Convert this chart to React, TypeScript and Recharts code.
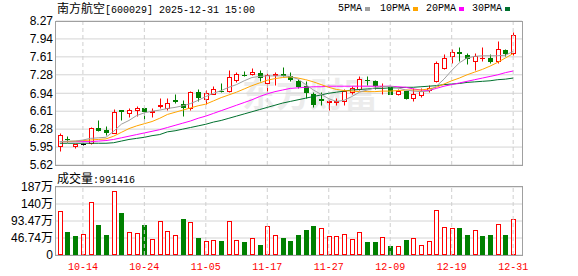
import React from "react";
import { Bar, CartesianGrid, ComposedChart, Line, ReferenceLine, XAxis, YAxis } from "recharts";

const dates = [
  "10-09", "10-10", "10-13", "10-14", "10-15", "10-16", "10-17", "10-20", "10-21", "10-22",
  "10-23", "10-24", "10-27", "10-28", "10-29", "10-30", "10-31", "11-03", "11-04", "11-05",
  "11-06", "11-07", "11-10", "11-11", "11-12", "11-13", "11-14", "11-17", "11-18", "11-19",
  "11-20", "11-21", "11-24", "11-25", "11-26", "11-27", "11-28", "12-01", "12-02", "12-03",
  "12-04", "12-05", "12-08", "12-09", "12-10", "12-11", "12-12", "12-15", "12-16", "12-17",
  "12-18", "12-19", "12-22", "12-23", "12-24", "12-25", "12-26", "12-29", "12-30", "12-31",
];

const opens = [
  5.97, 6.1, 5.97, 6.0, 6.02, 6.31, 6.26, 6.21, 6.63, 6.58,
  6.63, 6.67, 6.6, 6.7, 6.66, 6.81, 6.75, 6.67, 6.96, 6.83,
  6.93, 6.99, 6.98, 7.18, 7.28, 7.29, 7.31, 7.13, 7.28, 7.29,
  7.25, 7.17, 7.07, 6.93, 6.83, 6.78, 6.78, 6.79, 6.96, 7.02,
  7.19, 7.17, 7.07, 7.06, 6.93, 6.98, 6.86, 6.91, 7.0, 7.16,
  7.4, 7.62, 7.7, 7.65, 7.54, 7.58, 7.59, 7.53, 7.74, 7.68,
];
const highs = [
  6.2, 6.15, 6.01, 6.02, 6.32, 6.44, 6.34, 6.65, 6.63, 6.66,
  6.7, 6.68, 6.67, 6.85, 6.86, 6.92, 6.82, 6.98, 7.01, 7.0,
  7.08, 7.12, 7.37, 7.34, 7.35, 7.4, 7.37, 7.31, 7.34, 7.43,
  7.34, 7.2, 7.16, 6.96, 6.96, 6.82, 6.86, 7.01, 7.07, 7.26,
  7.26, 7.19, 7.13, 7.08, 7.01, 6.99, 7.04, 7.04, 7.1, 7.53,
  7.67, 7.75, 7.8, 7.68, 7.68, 7.79, 7.67, 7.9, 7.75, 8.06,
];
const lows = [
  5.87, 6.04, 5.94, 5.98, 6.0, 6.24, 6.18, 6.2, 6.45, 6.51,
  6.53, 6.45, 6.5, 6.67, 6.63, 6.76, 6.52, 6.63, 6.79, 6.75,
  6.92, 6.96, 6.96, 7.15, 7.25, 7.27, 7.17, 6.96, 7.1, 7.25,
  7.17, 7.04, 6.86, 6.69, 6.72, 6.63, 6.73, 6.73, 6.92, 7.0,
  7.1, 7.01, 6.92, 6.92, 6.9, 6.83, 6.79, 6.87, 6.96, 7.14,
  7.39, 7.5, 7.54, 7.48, 7.36, 7.54, 7.5, 7.5, 7.63, 7.65,
];
const closes = [
  6.17, 6.09, 6.0, 6.0, 6.31, 6.26, 6.23, 6.59, 6.62, 6.64,
  6.67, 6.62, 6.61, 6.72, 6.76, 6.8, 6.69, 6.96, 6.87, 6.95,
  7.01, 6.98, 7.24, 7.3, 7.27, 7.33, 7.24, 7.28, 7.29, 7.28,
  7.21, 7.08, 6.96, 6.75, 6.82, 6.79, 6.8, 6.99, 7.03, 7.2,
  7.18, 7.1, 7.08, 6.93, 6.99, 6.86, 6.93, 6.98, 7.04, 7.5,
  7.59, 7.7, 7.68, 7.59, 7.62, 7.59, 7.54, 7.75, 7.68, 8.01,
];

const ma5 = [
  6.05, 6.06, 6.06, 6.08, 6.11, 6.12, 6.13, 6.24, 6.37, 6.44,
  6.53, 6.58, 6.61, 6.63, 6.66, 6.68, 6.71, 6.75, 6.81, 6.88,
  6.94, 6.99, 7.05, 7.1, 7.17, 7.23, 7.25, 7.26, 7.26, 7.26,
  7.25, 7.2, 7.1, 7.0, 6.92, 6.84, 6.79, 6.81, 6.88, 6.96,
  7.0, 7.04, 7.06, 7.07, 7.04, 7.0, 6.98, 6.97, 6.98, 7.07,
  7.2, 7.36, 7.5, 7.59, 7.62, 7.63, 7.63, 7.63, 7.64, 7.71,
];
const ma10 = [
  6.05, 6.05, 6.06, 6.07, 6.08, 6.09, 6.1, 6.15, 6.22, 6.29,
  6.34, 6.38, 6.42, 6.48, 6.55, 6.59, 6.63, 6.67, 6.71, 6.74,
  6.8, 6.86, 6.91, 6.96, 7.02, 7.08, 7.13, 7.18, 7.21, 7.23,
  7.24, 7.22, 7.19, 7.15, 7.1, 7.05, 7.01, 6.99, 6.98, 6.97,
  6.97, 6.97, 6.98, 6.98, 6.99, 7.0, 7.0, 7.0, 7.02, 7.05,
  7.11, 7.17, 7.22, 7.28, 7.33, 7.38, 7.44, 7.51, 7.59, 7.67,
];
const ma20 = [
  6.05, 6.05, 6.05, 6.05, 6.05, 6.06, 6.07, 6.09, 6.12, 6.15,
  6.18, 6.21, 6.24, 6.27, 6.31, 6.35, 6.39, 6.43, 6.48, 6.52,
  6.57, 6.62, 6.67, 6.72, 6.77, 6.82, 6.88, 6.93, 6.97, 7.0,
  7.03, 7.04, 7.05, 7.06, 7.06, 7.07, 7.07, 7.07, 7.07, 7.07,
  7.07, 7.07, 7.07, 7.07, 7.06, 7.05, 7.02, 7.0, 6.99, 7.03,
  7.07, 7.1, 7.13, 7.16, 7.19, 7.22, 7.25, 7.28, 7.32, 7.35,
];
const ma30 = [
  6.02, 6.02, 6.02, 6.02, 6.02, 6.02, 6.02, 6.03, 6.06, 6.09,
  6.11, 6.13, 6.16, 6.18, 6.23, 6.25, 6.28, 6.31, 6.34, 6.37,
  6.41, 6.44, 6.48, 6.52, 6.56, 6.6, 6.64, 6.68, 6.72, 6.76,
  6.79, 6.82, 6.85, 6.88, 6.91, 6.94, 6.96, 6.98, 7.0, 7.01,
  7.02, 7.03, 7.03, 7.04, 7.04, 7.05, 7.05, 7.06, 7.07, 7.08,
  7.1, 7.11, 7.12, 7.14, 7.15, 7.16, 7.17, 7.19, 7.2, 7.22,
];

// volume in 万手
const volumes = [
  121, 64, 52, 58, 146, 82.5, 55, 176, 116, 63,
  60.5, 82.5, 44, 93.5, 66, 54, 99, 91, 48, 39,
  41, 39, 93.5, 41, 36.7, 46, 27.5, 80, 55, 47.6,
  39, 55, 69, 80, 73, 52, 52, 58, 44, 63,
  36.7, 36.7, 48.6, 25, 25, 41, 46, 27.5, 38.5, 124,
  76, 73, 75, 55, 69, 52, 55, 85, 55, 99.14,
];
const volUp = [
  1, 0, 0, 1, 1, 0, 0, 1, 0, 1,
  1, 0, 1, 1, 1, 1, 0, 1, 0, 1,
  1, 0, 1, 1, 0, 1, 0, 1, 1, 0,
  0, 0, 0, 0, 1, 1, 1, 1, 1, 1,
  0, 0, 1, 0, 1, 0, 1, 1, 1, 1,
  1, 1, 0, 0, 1, 0, 0, 1, 0, 1,
];

const priceTicks = [5.62, 5.95, 6.28, 6.61, 6.94, 7.28, 7.61, 7.94, 8.27];
const volTicks = [0, 46.74, 93.47, 140.21, 186.96];
const volTickLabels = ["0", "46.74万", "93.47万", "140万", "187万"];
const dateTicks = ["10-14", "10-24", "11-05", "11-17", "11-27", "12-09", "12-19", "12-31"];

const maNames = ["5PMA", "10PMA", "20PMA", "30PMA"];
const maColors = ["#a0a0a0", "#ffa500", "#ff00ff", "#00702e"];

const RED = "#ff0000";
const GREEN = "#008000";
const GRID = "#d4d4d4";
const FRAME = "#a0a0a0";

const rows = dates.map((date, i) => ({
  date,
  open: opens[i],
  high: highs[i],
  low: lows[i],
  close: closes[i],
  ma5: ma5[i],
  ma10: ma10[i],
  ma20: ma20[i],
  ma30: ma30[i],
  vol: volumes[i],
  up: volUp[i] === 1,
}));

function Candle(props: any) {
  const { x, y, width, height, payload } = props;
  if (x == null || y == null || !payload) return null;
  const top = Math.min(y, y + height);
  const bottom = Math.max(y, y + height);
  const { open, close, high, low } = payload;
  const span = high - low;
  const toY = (v: number) => (span === 0 ? top : bottom - ((v - low) / span) * (bottom - top));
  const cx = Math.round(x + width / 2) + 0.5;
  const yHigh = Math.round(top) + 0.5;
  const yLow = Math.round(bottom) + 0.5;
  const yo = Math.round(toY(open)) + 0.5;
  const yc = Math.round(toY(close)) + 0.5;
  if (open === close) {
    return (
      <g>
        <line x1={cx} x2={cx} y1={yHigh} y2={yLow} stroke="#000" />
        <line x1={cx - 2.5} x2={cx + 2.5} y1={yo} y2={yo} stroke="#000" />
      </g>
    );
  }
  const up = close > open;
  const color = up ? RED : GREEN;
  const bTop = Math.min(yo, yc);
  const bBot = Math.max(yo, yc);
  if (bBot - bTop < 1) {
    return (
      <g>
        <line x1={cx} x2={cx} y1={yHigh} y2={yLow} stroke={color} />
        <line x1={cx - 2.5} x2={cx + 2.5} y1={bTop} y2={bTop} stroke={color} />
      </g>
    );
  }
  return (
    <g>
      <line x1={cx} x2={cx} y1={yHigh} y2={bTop} stroke={color} />
      <line x1={cx} x2={cx} y1={bBot} y2={yLow} stroke={color} />
      <rect x={cx - 2} y={bTop} width={4} height={bBot - bTop} fill={up ? "#fff" : color} stroke={color} />
    </g>
  );
}

function VolBar(props: any) {
  const { x, y, width, height, payload } = props;
  if (x == null || y == null || !payload) return null;
  const cx = Math.round(x + width / 2) + 0.5;
  const t = Math.round(Math.min(y, y + height)) + 0.5;
  const b = Math.round(Math.max(y, y + height)) - 0.5;
  if (payload.up) {
    return <rect x={cx - 2} y={t} width={4} height={Math.max(0, b - t)} fill="#fff" stroke={RED} />;
  }
  return <rect x={cx - 2.5} y={t - 0.5} width={5} height={Math.max(0, b - t + 1)} fill={GREEN} />;
}

const cjk = { fontFamily: '"Noto Sans CJK SC", sans-serif', fontSize: 12 };
const mono = { fontFamily: '"Liberation Mono", monospace', fontSize: 10 };
const axisFont = { fontFamily: '"Liberation Sans", "Noto Sans CJK SC", sans-serif', fontSize: 12, fill: "#000" };

export default function App() {
  return (
    <div
      style={{
        position: "absolute",
        left: 0,
        top: 0,
        width: 578,
        height: 276,
        background: "#fff",
        overflow: "hidden",
        color: "#000",
      }}
    >
      <div
        style={{
          position: "absolute",
          left: 242,
          top: 75,
          fontFamily: '"Noto Sans CJK SC", sans-serif',
          fontWeight: 700,
          fontSize: 34,
          lineHeight: "36px",
          color: "#ececec",
          whiteSpace: "nowrap",
        }}
      >
        东方财富
      </div>

      <div style={{ position: "absolute", left: 57, top: 1, lineHeight: "14px", whiteSpace: "pre" }}>
        <span style={cjk}>南方航空</span>
        <span style={mono}>[600029] 2025-12-31 15:00</span>
      </div>

      {maNames.map((name, i) => (
        <React.Fragment key={name}>
          <div
            style={{
              position: "absolute",
              left: [338, 380, 426, 472][i],
              top: 2,
              lineHeight: "14px",
              ...mono,
            }}
          >
            {name}
          </div>
          <div
            style={{
              position: "absolute",
              left: [365, 413, 459, 505][i],
              top: 7,
              width: 5,
              height: 4,
              background: maColors[i],
            }}
          />
        </React.Fragment>
      ))}

      <div style={{ position: "absolute", left: 0, top: 0 }}>
        <ComposedChart width={578} height={180} data={rows} margin={{ top: 21, right: 56, bottom: 15, left: 0 }}>
          <CartesianGrid horizontal vertical={false} stroke={GRID} />
          <XAxis dataKey="date" hide padding={{ left: 0, right: 5 }} />
          <YAxis
            domain={[5.62, 8.27]}
            ticks={priceTicks}
            interval={0}
            width={56}
            axisLine={false}
            tickLine={false}
            tickSize={0}
            tickMargin={3}
            tick={axisFont}
            tickFormatter={(v: number) => v.toFixed(2)}
          />
          {dateTicks.map((d) => (
            <ReferenceLine key={d} x={d} stroke="#cfcfcf" strokeDasharray="4 3" />
          ))}
          <Bar dataKey={(d: any) => [d.low, d.high]} shape={(p: any) => <Candle {...p} />} isAnimationActive={false} />
          <Line dataKey="ma30" stroke={maColors[3]} dot={false} strokeWidth={1} isAnimationActive={false} />
          <Line dataKey="ma20" stroke={maColors[2]} dot={false} strokeWidth={1} isAnimationActive={false} />
          <Line dataKey="ma10" stroke={maColors[1]} dot={false} strokeWidth={1} isAnimationActive={false} />
          <Line dataKey="ma5" stroke={maColors[0]} dot={false} strokeWidth={1} isAnimationActive={false} />
        </ComposedChart>
      </div>

      <div style={{ position: "absolute", left: 57, top: 171, lineHeight: "14px", whiteSpace: "pre" }}>
        <span style={cjk}>成交量</span>
        <span style={mono}>:991416</span>
      </div>

      <div style={{ position: "absolute", left: 0, top: 170 }}>
        <ComposedChart width={578} height={106} data={rows} margin={{ top: 17, right: 56, bottom: 0, left: 0 }}>
          <CartesianGrid horizontal vertical={false} stroke={GRID} />
          <XAxis
            dataKey="date"
            ticks={dateTicks}
            interval={0}
            height={21}
            padding={{ left: 0, right: 5 }}
            axisLine={false}
            tickLine={false}
            tick={{ ...mono, fill: RED }}
          />
          <YAxis
            domain={[0, 186.96]}
            ticks={volTicks}
            interval={0}
            width={56}
            axisLine={false}
            tickLine={false}
            tickSize={0}
            tickMargin={3}
            tick={axisFont}
            tickFormatter={(v: number, i: number) => volTickLabels[i]}
          />
          {dateTicks.map((d) => (
            <ReferenceLine key={d} x={d} stroke="#cfcfcf" strokeDasharray="4 3" />
          ))}
          <Bar dataKey="vol" shape={(p: any) => <VolBar {...p} />} isAnimationActive={false} />
        </ComposedChart>
      </div>

      <div
        style={{
          position: "absolute",
          left: 55,
          top: 21,
          width: 468,
          height: 145,
          boxSizing: "border-box",
          border: `1px solid ${FRAME}`,
        }}
      />
      <div
        style={{
          position: "absolute",
          left: 55,
          top: 186,
          width: 468,
          height: 70,
          boxSizing: "border-box",
          border: `1px solid ${FRAME}`,
        }}
      />
    </div>
  );
}
